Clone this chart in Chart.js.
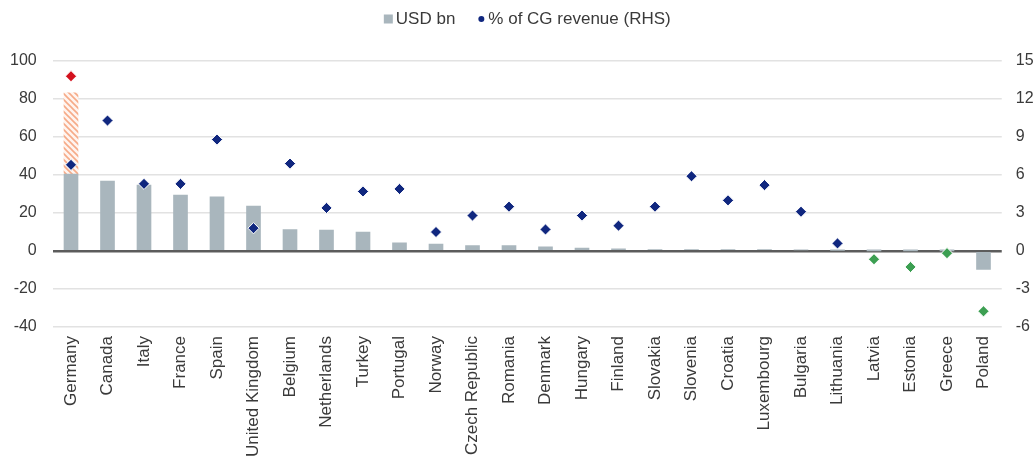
<!DOCTYPE html>
<html>
<head>
<meta charset="utf-8">
<script src="https://cdn.jsdelivr.net/npm/chart.js@4.4.1/dist/chart.umd.min.js"></script>
<style>
  html, body { margin: 0; padding: 0; background: #ffffff; }
  #wrap { width: 1036px; height: 462px; position: relative; }
</style>
</head>
<body>
<div id="wrap"><canvas id="c" width="1036" height="462"></canvas></div>
<script>
// ---- data ----
const categories = ["Germany", "Canada", "Italy", "France", "Spain", "United Kingdom", "Belgium", "Netherlands", "Turkey", "Portugal", "Norway", "Czech Republic", "Romania", "Denmark", "Hungary", "Finland", "Slovakia", "Slovenia", "Croatia", "Luxembourg", "Bulgaria", "Lithuania", "Latvia", "Estonia", "Greece", "Poland"];
const usdBn = [40.5, 36.8, 34.7, 29.4, 28.5, 23.6, 11.3, 11.0, 10.0, 4.3, 3.6, 2.9, 2.9, 2.2, 1.6, 1.2, 0.8, 0.7, 0.7, 0.7, 0.6, 0.3, 0.1, 0.1, 0.1, -9.7];
const usdBnExtra = [42.8, null, null, null, null, null, null, null, null, null, null, null, null, null, null, null, null, null, null, null, null, null, null, null, null, null];
const pctCgRevenue = [6.8, 10.3, 5.3, 5.3, 8.8, 1.8, 6.9, 3.4, 4.7, 4.9, 1.5, 2.8, 3.5, 1.7, 2.8, 2.0, 3.5, 5.9, 4.0, 5.2, 3.1, 0.6, -0.65, -1.26, -0.17, -4.76];
const pctExtra = [13.8, null, null, null, null, null, null, null, null, null, null, null, null, null, null, null, null, null, null, null, null, null, null, null, null, null];
const leftTicks = [-40, -20, 0, 20, 40, 60, 80, 100];
const rightTicks = [-6, -3, 0, 3, 6, 9, 12, 15];
const legendLabels = ["USD bn", "% of CG revenue (RHS)"];

// ---- styles ----
const FONT = "'Liberation Sans', Arial, Helvetica, sans-serif";
const TEXT = "#3a3a3a";
const BAR = "#a9b6bd";
const NAVY = "#10277f";
const GREEN = "#3c9f52";
const RED = "#d3111d";

function hatchPattern() {
  const s = 6;
  const cv = document.createElement('canvas');
  cv.width = s; cv.height = s;
  const g = cv.getContext('2d');
  g.fillStyle = '#fff4ef';
  g.fillRect(0, 0, s, s);
  g.strokeStyle = '#f6ab88';
  g.lineWidth = 1.6;
  g.beginPath();
  g.moveTo(-1, -1); g.lineTo(s + 1, s + 1);
  g.moveTo(-1, s - 1); g.lineTo(1, s + 1);
  g.moveTo(s - 1, -1); g.lineTo(s + 1, 1);
  g.stroke();
  return document.getElementById('c').getContext('2d').createPattern(cv, 'repeat');
}

const legendPlugin = {
  id: 'customLegend',
  afterDraw(chart) {
    const ctx = chart.ctx;
    const area = chart.chartArea;
    ctx.save();
    ctx.font = "17px " + FONT;
    const w1 = ctx.measureText(legendLabels[0]).width;
    const w2 = ctx.measureText(legendLabels[1]).width;
    const total = 9 + 3 + w1 + 23 + 6 + 4 + w2;
    let x = (area.left + area.right) / 2 - total / 2;
    const cy = 19;
    ctx.fillStyle = BAR;
    ctx.fillRect(x, cy - 4.5, 9, 9);
    x += 12;
    ctx.fillStyle = TEXT;
    ctx.textBaseline = 'middle';
    ctx.textAlign = 'left';
    ctx.fillText(legendLabels[0], x, cy);
    x += w1 + 23;
    ctx.fillStyle = NAVY;
    ctx.beginPath();
    ctx.arc(x + 3, cy, 3, 0, Math.PI * 2);
    ctx.fill();
    x += 10;
    ctx.fillStyle = TEXT;
    ctx.fillText(legendLabels[1], x, cy);
    ctx.restore();
  }
};

const ctx = document.getElementById('c').getContext('2d');
new Chart(ctx, {
  data: {
    labels: categories,
    datasets: [
      {
        type: 'line',
        label: legendLabels[1],
        data: pctCgRevenue,
        yAxisID: 'y1',
        showLine: false,
        pointStyle: 'rectRot',
        pointRadius: 5.6,
        pointBackgroundColor: pctCgRevenue.map(v => v < 0 ? GREEN : NAVY),
        pointBorderColor: '#ffffff',
        pointBorderWidth: 1,
        order: 0
      },
      {
        type: 'line',
        label: 'extra',
        data: pctExtra,
        yAxisID: 'y1',
        showLine: false,
        pointStyle: 'rectRot',
        pointRadius: 5.6,
        pointBackgroundColor: RED,
        pointBorderColor: '#ffffff',
        pointBorderWidth: 1,
        order: 0
      },
      {
        type: 'bar',
        label: legendLabels[0],
        data: usdBn,
        yAxisID: 'y',
        stack: 's',
        backgroundColor: BAR,
        barThickness: 14,
        order: 2
      },
      {
        type: 'bar',
        label: 'extraBar',
        data: usdBnExtra,
        yAxisID: 'y',
        stack: 's',
        backgroundColor: hatchPattern(),
        barThickness: 14,
        order: 2
      }
    ]
  },
  options: {
    responsive: false,
    animation: false,
    layout: { padding: { top: 61, left: 0, right: 0, bottom: 0 } },
    plugins: {
      legend: { display: false },
      tooltip: { enabled: false }
    },
    scales: {
      x: {
        offset: true,
        grid: { display: false, drawTicks: false },
        border: { display: false },
        ticks: {
          autoSkip: false,
          maxRotation: 90,
          minRotation: 90,
          padding: 9,
          color: TEXT,
          font: { family: FONT, size: 17 }
        },
        afterFit(s) { s.height = 135; }
      },
      y: {
        position: 'left',
        stacked: true,
        min: leftTicks[0],
        max: leftTicks[leftTicks.length - 1],
        afterBuildTicks(s) { s.ticks = leftTicks.map(v => ({ value: v })); },
        grid: {
          drawTicks: false,
          color: c => c.tick && c.tick.value === 0 ? '#5c5c5c' : '#e2e2e2',
          lineWidth: c => c.tick && c.tick.value === 0 ? 2.5 : 1.5
        },
        border: { display: false },
        ticks: {
          padding: 16,
          color: TEXT,
          font: { family: FONT, size: 16 }
        },
        afterFit(s) { s.width = 52.75; }
      },
      y1: {
        position: 'right',
        min: rightTicks[0],
        max: rightTicks[rightTicks.length - 1],
        afterBuildTicks(s) { s.ticks = rightTicks.map(v => ({ value: v })); },
        grid: { display: false, drawTicks: false },
        border: { display: false },
        ticks: {
          padding: 14,
          color: TEXT,
          font: { family: FONT, size: 16 }
        },
        afterFit(s) { s.width = 34.25; }
      }
    }
  },
  plugins: [legendPlugin]
});
</script>
</body>
</html>
